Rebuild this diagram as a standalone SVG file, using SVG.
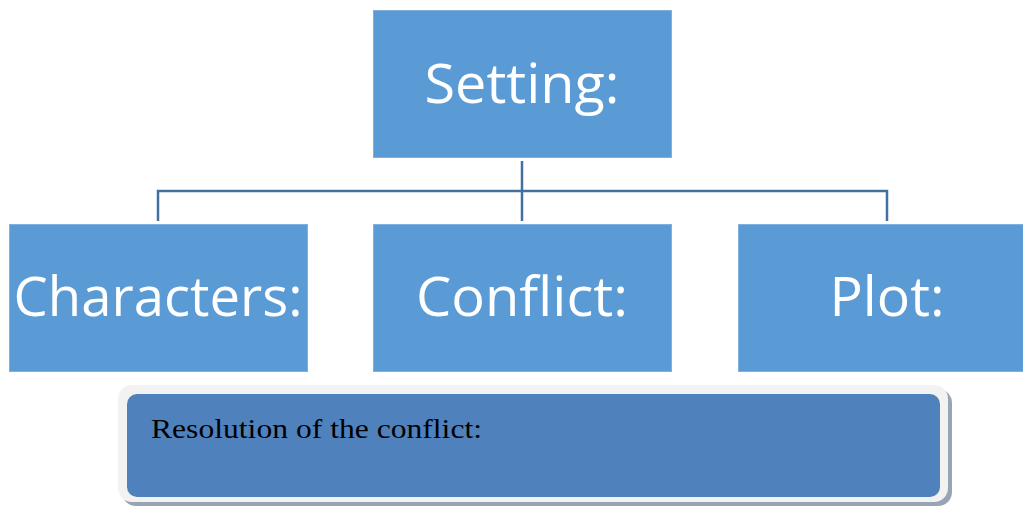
<svg xmlns="http://www.w3.org/2000/svg" width="1023" height="506" viewBox="0 0 1023 506">
<style>
.box{fill:#5B9BD5;stroke:#7FB0DE;stroke-width:1}
.lbl{font-family:"Open Sans","Liberation Sans",sans-serif;font-size:54px;fill:#ffffff;text-anchor:middle}
.conn{fill:none;stroke:#41719C;stroke-width:2.5}
</style>
<rect width="1023" height="506" fill="#ffffff"/>
<g id="connectors">
<path class="conn" d="M522 161V221M158 221V191H887V221"/>
</g>
<g id="setting">
<rect class="box" x="373.5" y="10.5" width="298" height="147"/>
<text class="lbl" x="522" y="103" textLength="195" lengthAdjust="spacingAndGlyphs">Setting:</text>
</g>
<g id="characters">
<rect class="box" x="9.5" y="224.5" width="298" height="147"/>
<text class="lbl" x="158" y="316" textLength="289" lengthAdjust="spacingAndGlyphs">Characters:</text>
</g>
<g id="conflict">
<rect class="box" x="373.5" y="224.5" width="298" height="147"/>
<text class="lbl" x="522" y="316" textLength="212" lengthAdjust="spacingAndGlyphs">Conflict:</text>
</g>
<g id="plot">
<rect class="box" x="738.5" y="224.5" width="290" height="147"/>
<text class="lbl" x="887" y="316" textLength="115" lengthAdjust="spacingAndGlyphs">Plot:</text>
</g>
<g id="resolution">
<rect x="122" y="389" width="830" height="117" rx="14" fill="#98A4B4"/>
<rect x="118" y="385" width="830" height="117" rx="14" fill="#F2F2F2"/>
<rect x="127" y="394" width="813" height="103" rx="10" fill="#4F81BD"/>
<text x="151" y="438" font-family="Liberation Serif,serif" font-size="27" fill="#000000" textLength="331" lengthAdjust="spacingAndGlyphs">Resolution of the conflict:</text>
</g>
</svg>
